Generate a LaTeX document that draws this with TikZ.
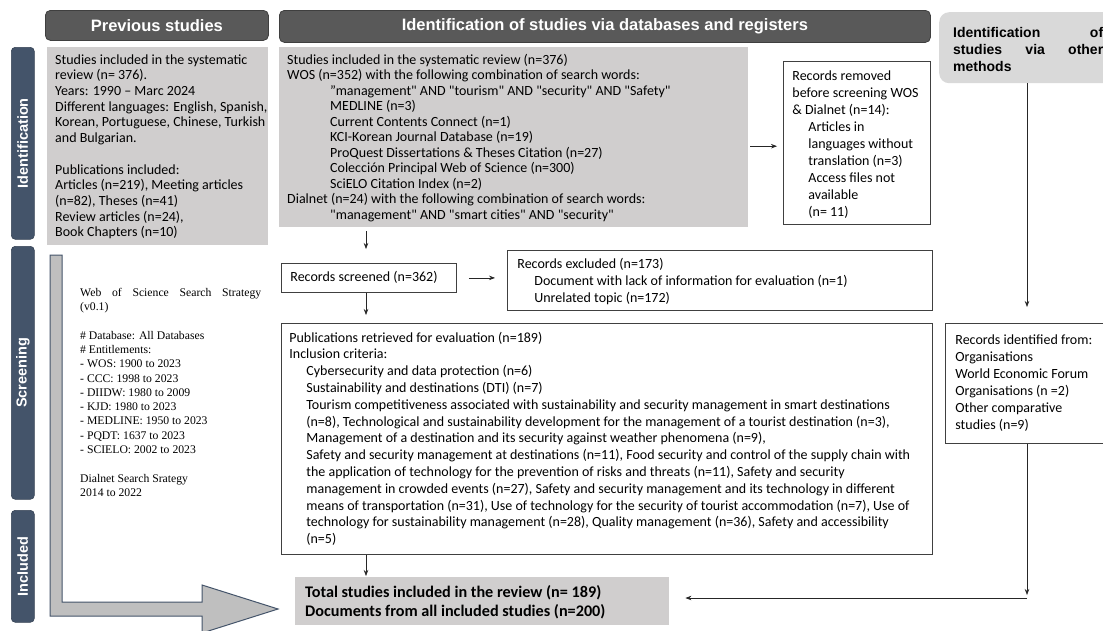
\documentclass[tikz,border=0pt]{standalone}
\usepackage{fontspec}
\setmainfont{Carlito}[Ligatures=TeXOff]
\newfontfamily\arialf{Liberation Sans}
\newfontfamily\timesf{Liberation Serif}
\usetikzlibrary{arrows.meta,calc}
\definecolor{tabblue}{HTML}{44546A}
\definecolor{hdr}{HTML}{595959}
\definecolor{hdrline}{HTML}{3F3F3F}
\definecolor{boxgray}{HTML}{D0CECE}
\definecolor{lgray}{HTML}{D9D9D9}
\definecolor{arrgray}{HTML}{BFBFBF}
\newcommand{\mbx}[5]{\begin{minipage}[c][#2][t]{#1}\vspace*{#4}\leftskip=#3\relax\rightskip=0pt plus 1fil\relax #5\end{minipage}}
\newcommand{\ind}[1]{\hspace*{#1}}
\newcommand{\bodyfont}[1]{\fontsize{14}{#1}\selectfont}
\tikzset{
  x=1pt, y=-1pt,
  tab/.style={fill=tabblue, draw=tabblue!80!black, rounded corners=4pt, line width=0.6pt},
  tablabel/.style={text=white, font=\arialf\bfseries\fontsize{14.5}{16}\selectfont, rotate=90},
  header/.style={fill=hdr, draw=hdrline, rounded corners=5pt, line width=0.8pt, text=white,
    font=\arialf\bfseries\fontsize{16.5}{18}\selectfont, inner sep=0pt, anchor=north west},
  graybox/.style={fill=boxgray, draw=none, inner sep=0pt, anchor=north west},
  whitebox/.style={fill=white, draw=black!75, line width=0.8pt, inner sep=0pt, anchor=north west},
  arr/.style={-{Stealth[length=6pt,width=4.5pt]}, line width=0.7pt, draw=black!85},
}
\begin{document}
\begin{tikzpicture}
\useasboundingbox (0,0) rectangle (1103,630);
\clip (0,0) rectangle (1103,630);
\fill[white] (0,0) rectangle (1103,630);

% side tabs
\node[tab, minimum width=23pt, minimum height=192pt, anchor=north west, inner sep=0pt] (tabid) at (11,47) {};
\node[tablabel] (tabidl) at (tabid.center) {Identification};
\node[tab, minimum width=23pt, minimum height=253pt, anchor=north west, inner sep=0pt] (tabsc) at (11,246) {};
\node[tablabel] (tabscl) at (tabsc.center) {Screening};
\node[tab, minimum width=23pt, minimum height=112pt, anchor=north west, inner sep=0pt] (tabin) at (11,510) {};
\node[tablabel] (tabinl) at (tabin.center) {Included};

% headers
\node[header, minimum width=223pt, minimum height=30pt] (hprev) at (45,10) {Previous studies};
\node[header, minimum width=651pt, minimum height=32pt] (hid) at (279,10) {Identification of studies via databases and registers};

% other methods box
\node[fill=lgray, rounded corners=10pt, inner sep=0pt, anchor=north west] (other) at (939,12)
 {\mbx{176pt}{71pt}{14pt}{15pt}{\arialf\bfseries\fontsize{14}{17}\selectfont
  \makebox[150pt][s]{Identification of}\\
  \makebox[150pt][s]{studies via other}\\
  methods}};

% previous studies box
\node[graybox] (prev) at (47,47)
 {\mbx{221pt}{198pt}{8pt}{6pt}{\bodyfont{15.7}\strut
  Studies included in the systematic\\
  review (n= 376).\\
  Years: 1990 – Marc 2024\\
  Different languages: English, Spanish,\\
  Korean, Portuguese, Chinese, Turkish\\
  and Bulgarian.\\
  \mbox{}\\
  Publications included:\\
  Articles (n=219), Meeting articles\\
  (n=82), Theses (n=41)\\
  Review articles (n=24),\\
  Book Chapters (n=10)}};

% WOS box
\node[graybox] (wos) at (279,47)
 {\mbx{469pt}{180pt}{8pt}{6pt}{\bodyfont{15.5}\strut
  Studies included in the systematic review (n=376)\\
  WOS (n=352) with the following combination of search words:\\
  \ind{43pt}”management" AND "tourism" AND "security" AND "Safety"\\
  \ind{43pt}MEDLINE (n=3)\\
  \ind{43pt}Current Contents Connect (n=1)\\
  \ind{43pt}KCI-Korean Journal Database (n=19)\\
  \ind{43pt}ProQuest Dissertations \& Theses Citation (n=27)\\
  \ind{43pt}Colección Principal Web of Science (n=300)\\
  \ind{43pt}SciELO Citation Index (n=2)\\
  Dialnet (n=24) with the following combination of search words:\\
  \ind{43pt}"management" AND "smart cities" AND "security"}};

% records removed
\node[whitebox] (removed) at (783,61)
 {\mbx{147pt}{163pt}{9pt}{7pt}{\bodyfont{17}\strut
  Records removed\\
  before screening WOS\\
  \& Dialnet (n=14):\\
  \ind{16pt}Articles in\\
  \ind{16pt}languages without\\
  \ind{16pt}translation (n=3)\\
  \ind{16pt}Access files not\\
  \ind{16pt}available\\
  \ind{16pt}(n= 11)}};

% web of science strategy text
\node[anchor=north west, inner sep=0pt] (wosstrat) at (80,286)
 {\begin{minipage}[t]{181pt}\timesf\fontsize{11.7}{14.3}\selectfont\strut
  \makebox[181pt][s]{Web of Science Search Strategy}\\
  (v0.1)\\
  \mbox{}\\
  \# Database: All Databases\\
  \# Entitlements:\\
  - WOS: 1900 to 2023\\
  - CCC: 1998 to 2023\\
  - DIIDW: 1980 to 2009\\
  - KJD: 1980 to 2023\\
  - MEDLINE: 1950 to 2023\\
  - PQDT: 1637 to 2023\\
  - SCIELO: 2002 to 2023\\
  \mbox{}\\
  Dialnet Search Srategy\\
  2014 to 2022\end{minipage}};

% records screened
\node[whitebox] (screened) at (281,263)
 {\mbx{175pt}{29pt}{9pt}{7pt}{\bodyfont{15.5}\strut Records screened (n=362)}};

% records excluded
\node[whitebox] (excluded) at (507,250)
 {\mbx{425pt}{60pt}{10pt}{6pt}{\bodyfont{17}\strut
  Records excluded (n=173)\\
  \ind{17pt}Document with lack of information for evaluation (n=1)\\
  \ind{17pt}Unrelated topic (n=172)}};

% publications retrieved
\node[whitebox] (pubs) at (281,323)
 {\mbx{651pt}{231pt}{8pt}{7pt}{\bodyfont{16.8}\strut
  Publications retrieved for evaluation (n=189)\\
  Inclusion criteria:\\
  \ind{17pt}Cybersecurity and data protection (n=6)\\
  \ind{17pt}Sustainability and destinations (DTI) (n=7)\\
  \ind{17pt}Tourism competitiveness associated with sustainability and security management in smart destinations\\
  \ind{17pt}(n=8), Technological and sustainability development for the management of a tourist destination (n=3),\\
  \ind{17pt}Management of a destination and its security against weather phenomena (n=9),\\
  \ind{17pt}Safety and security management at destinations (n=11), Food security and control of the supply chain with\\
  \ind{17pt}the application of technology for the prevention of risks and threats (n=11), Safety and security\\
  \ind{17pt}management in crowded events (n=27), Safety and security management and its technology in different\\
  \ind{17pt}means of transportation (n=31), Use of technology for the security of tourist accommodation (n=7), Use of\\
  \ind{17pt}technology for sustainability management (n=28), Quality management (n=36), Safety and accessibility\\
  \ind{17pt}(n=5)}};

% records identified from other methods
\node[whitebox] (identified) at (945,323)
 {\mbx{165pt}{120pt}{10pt}{9pt}{\bodyfont{17}\strut
  Records identified from:\\
  Organisations\\
  World Economic Forum\\
  Organisations (n =2)\\
  Other comparative\\
  studies (n=9)}};

% final box
\node[graybox] (final) at (295,577)
 {\mbx{374pt}{48pt}{10pt}{7pt}{\bfseries\fontsize{16.2}{19}\selectfont\strut
  Total studies included in the review (n= 189)\\
  Documents from all included studies (n=200)}};

% big L arrow
\draw[fill=arrgray, draw=tabblue, line width=1pt, line join=miter]
  (50,255) -- (62,255) -- (62,602) -- (202,602) -- (202,585) -- (278,609)
  -- (202,633) -- (202,616) -- (50,616) -- cycle;

% connectors
\draw[arr] ([xshift=2pt,yshift=-9pt]wos.east) -- ([xshift=-6pt,yshift=-9pt]wos.east -| removed.west);
\draw[arr] ([yshift=-4pt]wos.south -| 366,0) -- ([yshift=14pt]screened.north -| 366,0);
\draw[arr] ([xshift=12pt]screened.east) -- ([xshift=-12pt]screened.east -| excluded.west);
\draw[arr] (screened.south -| 366,0) -- ([yshift=8pt]pubs.north -| 366,0);
\draw[arr] (pubs.south -| 366,0) -- ([yshift=1pt]final.north -| 366,0);
\draw[arr] (other.south -| 1027,0) -- ([yshift=16pt]identified.north -| 1027,0);
\coordinate (corner) at (1027,598);
\draw[arr] (identified.south -| corner) -- ([yshift=3pt]corner);
\draw[arr] (corner) -- ([xshift=16pt]final.east |- corner);
\end{tikzpicture}
\end{document}
